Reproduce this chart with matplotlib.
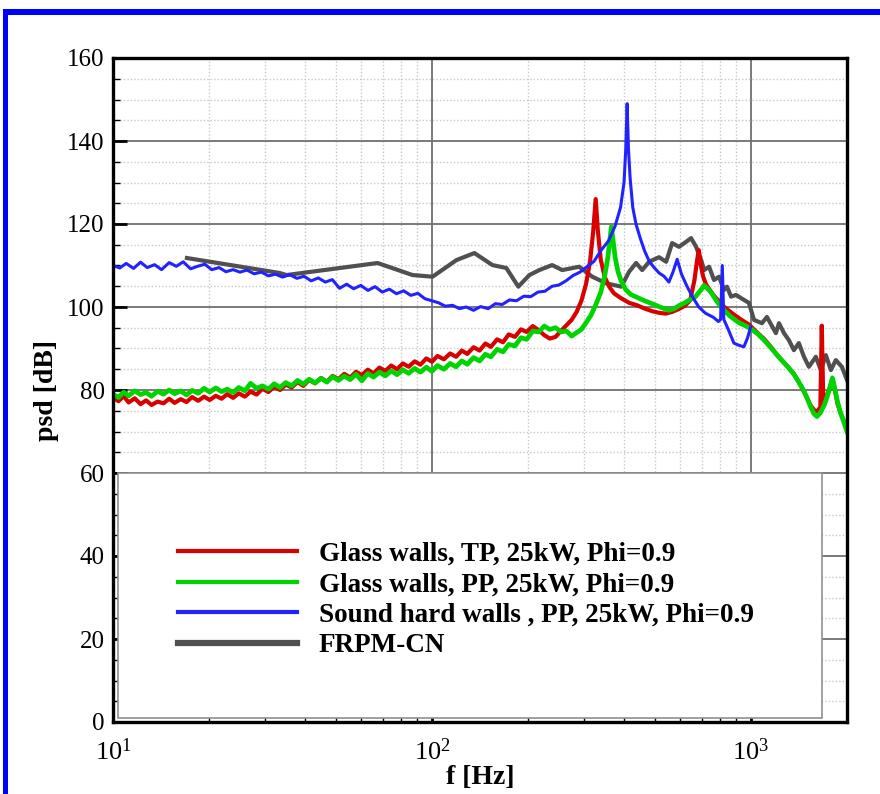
import numpy as np
import matplotlib
matplotlib.use("Agg")
import matplotlib.pyplot as plt
from matplotlib.patches import Rectangle
from matplotlib.ticker import LogLocator, MultipleLocator

plt.rcParams['font.family'] = ['Liberation Serif', 'DejaVu Serif']
plt.rcParams['mathtext.fontset'] = 'custom'
plt.rcParams['mathtext.rm'] = 'Liberation Serif'

# Glass walls, TP
f_tp = [10, 10.4, 10.8, 11.2, 11.7, 12.2, 12.7, 13.2, 13.8, 14.4, 15.0, 15.6, 16.3, 17.0, 17.7,
        18.5, 19.3, 20.1, 21.0, 21.9, 22.8, 23.8, 24.8, 25.9, 27.0, 28.2, 29.4, 30.7, 32.0, 33.4,
        34.8, 36.3, 37.9, 39.5, 41.2, 43.0, 44.9, 46.8, 48.8, 50.9, 53.1, 55.4, 57.8, 60.3, 62.9,
        65.6, 68.4, 71.4, 74.5, 77.7, 81.0, 84.5, 88.2, 92.0, 96.0, 100, 104, 109, 114, 119,
        124, 129, 135, 141, 147, 153, 160, 167, 174, 182, 190, 198, 207, 216, 225,
        234, 244, 254, 264, 274, 284, 294, 304, 313, 320, 326, 331, 338, 348, 360,
        372, 390, 415, 440, 465, 490, 515, 540, 565, 594, 620, 645, 665, 677, 686,
        695, 707, 722, 737, 760, 791, 830, 880, 930, 984, 1040, 1100, 1160, 1220, 1290,
        1360, 1420, 1480, 1540, 1600, 1650, 1667, 1685, 1730, 1770, 1800, 1830, 1870, 1920, 1970, 2000]
psd_tp = [78.2, 77.3, 78.5, 77.0, 78.0, 76.6, 77.5, 76.4, 77.2, 76.8, 77.9, 76.9, 77.8, 77.1, 78.3,
          77.4, 78.4, 77.6, 78.6, 77.9, 79.0, 78.1, 79.2, 78.4, 79.6, 78.9, 80.3, 79.5, 80.8, 80.0,
          81.3, 80.6, 81.9, 81.0, 82.4, 81.6, 82.9, 82.0, 83.4, 82.6, 83.9, 83.0, 84.4, 83.6, 84.9,
          84.0, 85.4, 84.6, 85.9, 85.0, 86.4, 85.6, 86.9, 86.1, 87.6, 86.8, 88.2, 87.4, 88.8, 88.0,
          89.5, 88.7, 90.3, 89.5, 91.2, 90.4, 92.2, 91.5, 93.4, 92.8, 94.6, 94.0, 95.4, 94.4, 93.2,
          92.4, 92.8, 94.3, 95.6, 96.9, 98.8, 101.5, 105.5, 111.0, 118.0, 126.0, 118.5, 111.5, 107.2, 104.8,
          103.3, 102.2, 101.0, 100.4, 99.6, 99.0, 98.6, 98.4, 98.8, 99.5, 100.3, 101.6, 106.5, 111.0, 113.7,
          110.5, 107.5, 105.5, 104.5, 103.0, 101.5, 99.8, 98.3, 97.0, 95.8, 94.0, 92.3, 90.2, 88.0, 86.0,
          84.0, 81.6, 79.0, 76.2, 74.6, 75.8, 95.5, 77.2, 78.8, 80.6, 82.7, 80.2, 76.5, 74.0, 72.0, 70.5]

# Glass walls, PP
f_pp = [10, 10.4, 10.8, 11.2, 11.7, 12.2, 12.7, 13.2, 13.8, 14.4, 15.0, 15.6, 16.3, 17.0, 17.7,
        18.5, 19.3, 20.1, 21.0, 21.9, 22.8, 23.8, 24.8, 25.9, 27.0, 28.2, 29.4, 30.7, 32.0, 33.4,
        34.8, 36.3, 37.9, 39.5, 41.2, 43.0, 44.9, 46.8, 48.8, 50.9, 53.1, 55.4, 57.8, 60.3, 62.9,
        65.6, 68.4, 71.4, 74.5, 77.7, 81.0, 84.5, 88.2, 92.0, 96.0, 100, 104, 109, 114, 119,
        124, 129, 135, 141, 147, 153, 160, 167, 174, 182, 190, 198, 207, 216, 225,
        234, 244, 254, 264, 274, 284, 294, 304, 315, 326, 338, 348, 356, 362, 365,
        369, 375, 383, 392, 405, 420, 440, 464, 490, 518, 553, 575, 594, 620, 645,
        670, 695, 713, 730, 750, 775, 800, 822, 860, 917, 960, 998, 1050, 1100, 1160,
        1221, 1290, 1358, 1410, 1460, 1500, 1537, 1575, 1610, 1650, 1700, 1740, 1770, 1800, 1830,
        1860, 1900, 1950, 2000]
psd_pp = [79.0, 78.2, 79.5, 78.6, 79.8, 78.9, 79.4, 78.5, 79.7, 79.0, 80.0, 79.1, 79.8, 78.8, 79.9,
          79.2, 80.4, 79.5, 80.5, 79.6, 80.2, 79.4, 80.6, 79.8, 81.6, 80.4, 81.0, 80.2, 81.5, 80.6,
          81.8, 81.0, 82.3, 81.4, 82.6, 81.7, 82.8, 81.9, 83.2, 82.3, 83.4, 82.5, 83.8, 82.2, 84.0,
          83.1, 84.3, 83.4, 84.6, 83.7, 84.9, 84.0, 85.2, 84.3, 85.5, 84.5, 85.9, 85.0, 86.4, 85.6,
          87.0, 86.2, 87.8, 87.0, 88.6, 88.0, 89.8, 89.2, 91.0, 90.6, 92.6, 92.2, 94.2, 94.0, 95.4,
          94.6, 95.0, 94.0, 94.2, 93.0, 93.8, 94.6, 96.2, 98.0, 100.5, 103.5, 107.5, 112.0, 117.0, 119.3,
          116.5, 112.0, 108.5, 106.2, 104.2, 103.0, 102.3, 101.5, 100.8, 100.0, 99.2, 99.6, 100.3, 101.0, 101.8,
          102.5, 104.0, 105.2, 104.5, 103.5, 101.8, 100.3, 99.3, 97.8, 96.2, 95.5, 94.8, 93.5, 92.0, 90.0,
          88.0, 86.0, 84.0, 82.0, 80.0, 78.0, 76.0, 74.3, 73.6, 74.5, 76.5, 78.8, 80.8, 82.9, 80.5,
          77.8, 75.0, 72.5, 70.0]

# Sound hard walls, PP
f_hard = [10, 10.5, 11, 11.6, 12.2, 12.8, 13.5, 14.2, 15, 15.8, 16.6, 17.5, 18.4, 19.4, 20.4,
          21.5, 22.6, 23.8, 25, 26.3, 27.7, 29.2, 30.7, 32.3, 34, 35.8, 37.7, 39.7, 41.8, 44,
          46.3, 48.7, 51.3, 54, 56.8, 59.8, 63, 66.3, 69.8, 73.5, 77.4, 81.5, 85.8, 90.3, 95,
          100, 105, 110, 116, 122, 128, 135, 142, 150, 158, 166, 175, 184, 194, 204,
          215, 226, 238, 250, 263, 277, 291, 306, 322, 340, 358, 375, 390, 400, 405,
          409, 413, 418, 426, 436, 450, 464, 480, 497, 515, 534, 553, 570, 587, 605,
          630, 655, 686, 720, 763, 790, 803, 813, 822, 850, 884, 915, 950, 975, 998]
psd_hard = [110.0, 109.4, 110.5, 109.3, 110.8, 109.5, 110.2, 109.0, 110.7, 109.8, 110.9, 109.2, 109.8, 110.3, 109.0,
            109.5, 108.5, 109.0, 108.4, 108.9, 108.0, 108.4, 107.5, 107.9, 107.2, 107.8, 106.9, 107.4, 106.3, 107.0,
            106.0, 106.6, 104.5, 105.5, 104.4, 105.2, 104.0, 104.9, 103.6, 104.3, 103.2, 103.9, 102.8, 103.3, 102.0,
            101.5, 101.0, 100.2, 100.4, 99.6, 100.0, 99.2, 100.1, 99.6, 100.8, 100.6, 101.7, 101.5, 102.6, 102.5,
            103.6, 103.8, 105.0, 105.3, 106.3, 107.6, 108.4, 109.7, 111.0, 113.8, 116.0, 119.5, 124.0, 130.0, 138.0,
            149.0, 138.0, 131.0, 124.0, 120.0, 116.5, 113.5, 111.0, 109.5, 108.2, 107.4, 106.0, 108.5, 111.5, 108.0,
            105.0, 102.5, 100.0, 98.5, 97.5, 96.5, 97.0, 110.0, 97.0, 94.5, 91.3, 90.8, 90.4, 92.5, 95.2]

# FRPM-CN
f_frpm = [17.05, 33.3, 35.0, 67.5, 86.9, 100.4, 119.3, 135.8, 154.7, 171, 186.5, 202, 217, 238, 256,
          289.5, 318, 352, 392, 415, 436.5, 456, 479.5, 515, 542, 566, 595, 626, 649, 673,
          698, 713, 739, 766, 794, 823, 841, 866, 898, 937, 985, 1022, 1082, 1122, 1197,
          1224, 1269, 1315, 1363, 1413, 1466, 1519, 1597, 1656, 1717, 1780, 1845, 1927, 2000]
psd_frpm = [111.8, 108.2, 107.7, 110.6, 107.7, 107.3, 111.3, 113.0, 110.1, 109.4, 104.9, 107.7, 108.9, 110.1, 108.9,
            109.7, 107.3, 105.7, 104.9, 108.5, 110.6, 108.9, 110.9, 112.0, 110.9, 115.4, 114.5, 115.7, 116.6, 114.5,
            111.3, 108.9, 109.7, 106.5, 107.3, 104.1, 104.9, 102.5, 102.9, 102.0, 101.0, 96.9, 96.1, 97.6, 93.7,
            96.1, 93.7, 92.0, 89.6, 91.3, 88.0, 85.6, 88.0, 84.8, 88.4, 84.8, 87.2, 85.6, 82.4]

labels = ['Glass walls, TP, 25kW, Phi=0.9', 'Glass walls, PP, 25kW, Phi=0.9',
          'Sound hard walls , PP, 25kW, Phi=0.9', 'FRPM-CN']

fig = plt.figure(figsize=(8.8, 7.94), dpi=100)
ax = fig.add_axes([113 / 880, 1 - 722 / 794, 734 / 880, 664 / 794])

ax.plot(f_tp, psd_tp, color='#d90000', lw=3.0, zorder=2.1, label=labels[0])
ax.plot(f_pp, psd_pp, color='#00d400', lw=3.4, zorder=2.2, label=labels[1])
ax.plot(f_hard, psd_hard, color='#2222ff', lw=2.2, zorder=2.3, label=labels[2])
ax.plot(f_frpm, psd_frpm, color='#505050', lw=3.0, zorder=2.0, label=labels[3])

ax.set_xscale('log')
ax.set_xlim(10, 2000)
ax.set_ylim(0, 160)
ax.yaxis.set_major_locator(MultipleLocator(20))
ax.yaxis.set_minor_locator(MultipleLocator(5))
ax.xaxis.set_major_locator(LogLocator(base=10))
ax.xaxis.set_minor_locator(LogLocator(base=10, subs=np.arange(2, 10)))

ax.grid(True, which='major', color='#707070', lw=1.3, zorder=0)
ax.grid(True, which='minor', color='#c8c8c8', lw=1.0, ls=(0, (1, 1.5)), zorder=0)
ax.set_axisbelow(True)

for s in ax.spines.values():
    s.set_linewidth(2.4)
ax.tick_params(which='major', direction='in', length=10, width=2.0, labelsize=18, pad=6)
ax.tick_params(axis='x', which='major', pad=12, labelsize=19)
ax.tick_params(which='minor', direction='in', length=5, width=1.0)

ax.set_xlabel('f [Hz]', fontsize=20, fontweight='bold', labelpad=0)
ax.set_ylabel('psd [dB]', fontsize=20, fontweight='bold', labelpad=6)

# legend box
ax.add_patch(Rectangle((5 / 734, 4 / 664), 704 / 734, 245 / 664, transform=ax.transAxes,
                       facecolor='white', edgecolor='#909090', lw=1.2, zorder=3))
leg = fig.legend(loc='center left', bbox_to_anchor=(178 / 880, 1 - 600 / 794), frameon=False,
                 prop={'weight': 'bold', 'size': 19.5}, handlelength=4.4, handletextpad=0.8,
                 labelspacing=0.2, borderpad=0, borderaxespad=0)
leg.set_zorder(4)
for h in leg.legend_handles:
    h.set_linewidth(3.0)
leg.legend_handles[3].set_linewidth(4.5)

# blue frame on the left and top
fig.add_artist(Rectangle((3 / 880, 0), 5 / 880, 1 - 9 / 794, transform=fig.transFigure,
                         facecolor='#0000ff', edgecolor='none'))
fig.add_artist(Rectangle((3 / 880, 1 - 15 / 794), 1, 6 / 794, transform=fig.transFigure,
                         facecolor='#0000ff', edgecolor='none'))

fig.savefig('out.png', dpi=100)
